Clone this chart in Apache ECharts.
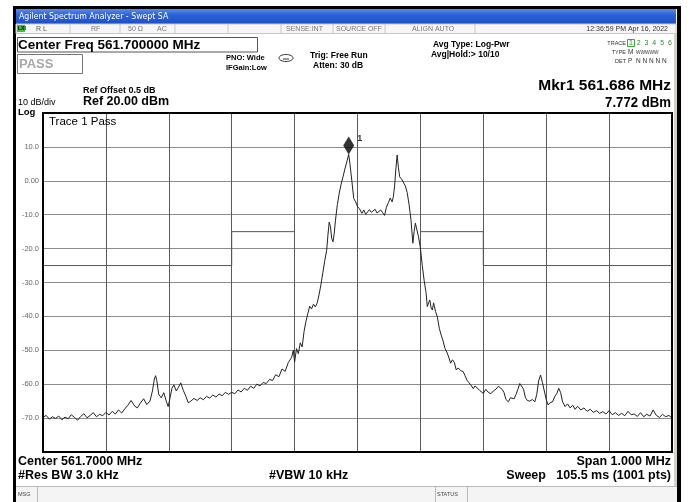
<!DOCTYPE html>
<html><head><meta charset="utf-8">
<script src="https://cdn.jsdelivr.net/npm/echarts@6/dist/echarts.min.js"></script>
<style>html,body{margin:0;padding:0;background:#fff}#c{width:697px;height:502px}</style>
</head><body><div id="c"></div>
<script>
// Frequency offsets (kHz from 561.2 MHz start; span 1 MHz)
const traceOffsetKHz = [0,5,10,15,20,25,30,35,40,45,50,55,60,65,70,75,80,85,90,95,100,105,110,115,120,125,130,135,140,143,146,150,155,160,165,170,174,177,179,181,184,188,192,196,199,202,205,208,212,215,219,223,227,231,235,240,245,250,255,260,265,270,275,280,285,290,295,300,305,310,315,320,325,330,335,340,345,350,355,360,365,370,375,380,385,390,395,398,400,403,406,409,412,415,418,421,424,427,430,433,436,439,442,445,448,451,453,455,457,459,461,463,465,468,471,474,477,480,483,486,488,491,494,497,500,503,507,510,513,516,519,522,525,528,531,534,537,540,543,546,549,552,555,557,559,561,563,565,567,570,573,576,579,582,585,588,590,592,594,597,600,603,606,609,611,613,615,617,619,621,624,627,630,633,636,639,642,645,648,651,654,657,660,664,668,671,674,677,680,684,687,690,694,697,700,704,708,712,716,720,724,727,730,733,736,740,743,746,749,752,755,758,761,764,767,770,774,778,782,785,788,791,794,797,800,803,806,810,814,817,820,823,826,830,834,838,842,846,850,855,860,865,870,875,880,885,890,895,900,905,910,915,920,925,930,935,940,945,950,955,960,965,970,975,980,985,990,995,1000];
const traceLevelDbm = [-69.8,-69.2,-70.3,-69.6,-70.1,-69.4,-70.5,-69.7,-70.2,-69.0,-69.8,-70.6,-69.5,-68.7,-69.9,-69.2,-68.4,-69.6,-68.9,-69.3,-68.3,-69.1,-68.0,-68.8,-67.6,-68.5,-67.3,-66.2,-64.8,-64.5,-66.5,-67.0,-65.5,-64.3,-66.0,-65.0,-62.0,-58.5,-57.5,-59.0,-63.0,-64.0,-62.5,-65.0,-66.6,-64.0,-61.2,-60.2,-62.0,-61.0,-59.6,-61.8,-63.5,-65.5,-65.0,-64.2,-64.8,-64.0,-64.6,-63.6,-64.1,-63.2,-63.8,-62.9,-63.4,-62.4,-63.0,-62.4,-62.8,-61.7,-62.3,-61.2,-61.8,-60.6,-61.2,-60.0,-60.5,-59.5,-59.8,-58.6,-58.9,-57.2,-57.8,-55.5,-56.2,-53.6,-52.2,-50.0,-53.5,-49.5,-51.0,-47.8,-49.0,-44.5,-41.5,-39.2,-37.0,-37.8,-36.4,-37.2,-36.0,-33.5,-30.5,-27.0,-23.5,-20.5,-16.0,-12.2,-13.5,-17.0,-18.0,-15.5,-11.6,-7.0,-3.6,-1.0,1.2,3.5,5.6,7.772,5.0,0.0,-5.2,-6.2,-7.6,-8.2,-9.6,-8.6,-9.9,-10.1,-8.5,-9.3,-9.8,-8.4,-9.5,-9.8,-8.6,-9.4,-10.2,-7.8,-6.5,-5.1,-6.2,-4.7,-1.5,3.5,7.6,4.0,1.2,0.5,0.0,-1.5,-3.5,-7.0,-11.5,-18.4,-15.0,-12.5,-13.0,-16.5,-19.8,-25.0,-29.5,-33.0,-37.1,-36.0,-35.2,-37.5,-38.1,-36.0,-38.5,-40.2,-43.5,-45.5,-47.2,-49.4,-50.5,-52.0,-53.8,-52.8,-53.6,-55.8,-55.2,-56.0,-56.3,-57.5,-58.8,-59.5,-60.2,-61.3,-60.5,-60.2,-61.8,-62.0,-62.7,-61.5,-62.4,-62.8,-62.0,-61.5,-60.6,-60.3,-61.5,-62.5,-64.5,-65.2,-64.0,-63.5,-64.3,-63.0,-61.5,-59.8,-59.3,-61.5,-64.0,-64.8,-65.0,-64.5,-65.2,-63.0,-59.0,-57.3,-59.5,-62.0,-64.5,-66.1,-65.5,-65.2,-63.5,-62.7,-61.2,-62.5,-65.2,-66.6,-65.8,-67.0,-66.2,-67.4,-66.5,-67.6,-67.0,-68.0,-67.4,-68.3,-67.8,-68.6,-68.1,-68.8,-67.8,-69.0,-68.4,-69.2,-68.6,-69.3,-68.0,-69.0,-68.8,-69.5,-68.4,-69.6,-68.9,-69.4,-67.6,-69.2,-69.8,-68.9,-69.6,-69.2,-70.0];
// Limit (mask) lines
const limitLeftKHz = [0,300,300,400];
const limitLeftDbm = [-25,-25,-15,-15];
const limitRightKHz = [600,700,700,1000];
const limitRightDbm = [-15,-15,-25,-25];
// Marker 1
const markerKHz = [486];
const markerDbm = [7.772];
// Axes
const yMin = -80, yMax = 20, yStep = 10;
const xMin = 0, xMax = 1000, xStep = 100;

const FF = '"Liberation Sans", Arial, sans-serif';
function T(x, y, text, size, opts) {
  opts = opts || {};
  const align = opts.align || 'left';
  return {
    type: 'text', x: x, y: y, z: 100, scaleX: opts.sx || 1,
    style: {
      text: text, fill: opts.color || '#000',
      font: (opts.bold ? 'bold ' : '') + size + 'px ' + (opts.family || FF),
      align: align, verticalAlign: 'middle',
      textAlign: align, textVerticalAlign: 'middle'
    }
  };
}
function R(x, y, w, h, fill, stroke, lw, z) {
  return { type: 'rect', shape: { x: x, y: y, width: w, height: h }, z: (z === undefined ? 1 : z),
    style: { fill: fill || 'none', stroke: stroke || null, lineWidth: lw || 1 } };
}
function L(x1, y1, x2, y2, color, lw, z) {
  return { type: 'line', shape: { x1: x1, y1: y1, x2: x2, y2: y2 }, z: z || 2,
    style: { stroke: color, lineWidth: lw || 1 } };
}

const graphics = [
  R(13, 6, 668, 496, '#000', null, 1, -3),
  R(16, 9, 661, 493, '#fff', null, 1, -2),
  { type: 'rect', shape: { x: 16, y: 9, width: 660, height: 15 }, z: 1,
    style: { fill: new echarts.graphic.LinearGradient(0, 0, 0, 1, [
      { offset: 0, color: '#5a8af0' }, { offset: 0.4, color: '#2c62d8' }, { offset: 1, color: '#1d4fc4' }]) } },
  T(19, 16.5, 'Agilent Spectrum Analyzer - Swept SA', 8.5, { color: '#fff', family: '"DejaVu Sans", sans-serif', sx: 0.92 }),
  R(16, 24, 660, 9.5, '#f6f6f6', '#c8c8c8', 1, 1),
  R(17, 25, 8, 7, '#3fbf3f', null, 1, 2),
  T(18, 28.7, 'LXI', 5, { bold: true, color: '#000' }),
  T(36, 29, 'R L', 7, { color: '#555' }),
  T(91, 29, 'RF', 7, { color: '#777' }),
  T(128, 29, '50 Ω', 7, { color: '#777' }),
  T(157, 29, 'AC', 7, { color: '#777' }),
  T(286, 29, 'SENSE:INT', 7, { color: '#777' }),
  T(336, 29, 'SOURCE OFF', 7, { color: '#777' }),
  T(412, 29, 'ALIGN AUTO', 7, { color: '#777' }),
  T(668, 29, '12:36:59 PM Apr 16, 2022', 7, { color: '#333', align: 'right' }),
  L(70, 24, 70, 33, '#c8c8c8'), L(120, 24, 120, 33, '#c8c8c8'), L(175, 24, 175, 33, '#c8c8c8'),
  L(228, 24, 228, 33, '#c8c8c8'), L(281, 24, 281, 33, '#c8c8c8'), L(333, 24, 333, 33, '#c8c8c8'),
  L(385, 24, 385, 33, '#c8c8c8'), L(475, 24, 475, 33, '#c8c8c8'),
  R(674, 33, 3, 453, '#d4d0c8', null, 1, 1),
  // Header
  R(17.5, 37.5, 240, 14.5, 'none', '#555', 1, 2),
  T(18, 45, 'Center Freq 561.700000 MHz', 13.5, { bold: true }),
  R(17.5, 54.5, 65, 19, 'none', '#777', 1, 2),
  T(19, 64, 'PASS', 13, { bold: true, color: '#a8a8a8' }),
  T(226, 58, 'PNO: Wide', 7.5, { bold: true }),
  T(226, 68, 'IFGain:Low', 7.5, { bold: true }),
  { type: 'ellipse', shape: { cx: 286, cy: 58, rx: 7, ry: 3.5 }, z: 3, style: { fill: 'none', stroke: '#333', lineWidth: 1 } },
  L(283, 59, 289, 59, '#333', 1, 3),
  T(310, 56, 'Trig: Free Run', 8.5, { bold: true }),
  T(313, 66, 'Atten: 30 dB', 8.5, { bold: true }),
  T(433, 45, 'Avg Type: Log-Pwr', 8.5, { bold: true }),
  T(431, 55, 'Avg|Hold:> 10/10', 8.5, { bold: true }),
  T(626, 43, 'TRACE', 5.5, { align: 'right', color: '#333' }),
  T(626, 52, 'TYPE', 5.5, { align: 'right', color: '#333' }),
  T(626, 61, 'DET', 5.5, { align: 'right', color: '#333' }),
  R(627.5, 39.5, 7, 7, 'none', '#3a3', 1, 2),
  T(629, 43, '1  2  3  4  5  6', 7, { color: '#2a8a2a' }),
  T(628, 52, 'M', 6.5, { color: '#333' }),
  T(636, 52, 'WWWWW', 6, { color: '#333', sx: 0.8 }),
  T(628, 61, 'P  N N N N N', 6.5, { color: '#333' }),
  T(83, 91, 'Ref Offset 0.5 dB', 9, { bold: true }),
  T(83, 102, 'Ref 20.00 dBm', 12.5, { bold: true }),
  T(18, 103, '10 dB/div', 9, {}),
  T(18, 112, 'Log', 9.5, { bold: true }),
  T(671, 86, 'Mkr1 561.686 MHz', 15.5, { bold: true, align: 'right' }),
  T(671, 103, '7.772 dBm', 15.5, { bold: true, align: 'right', sx: 0.85 }),
  // Plot extras
  T(49, 122, 'Trace 1 Pass', 11.5, {}),
  // Footer
  T(18, 462, 'Center 561.7000 MHz', 12.5, { bold: true }),
  T(18, 476, '#Res BW 3.0 kHz', 12.5, { bold: true }),
  T(269, 476, '#VBW 10 kHz', 12.5, { bold: true }),
  T(671, 462, 'Span 1.000 MHz', 12.5, { bold: true, align: 'right' }),
  T(671, 476, 'Sweep   105.5 ms (1001 pts)', 12.5, { bold: true, align: 'right' }),
  R(16, 486, 661, 16, '#f4f4f4', null, 1, 1),
  L(16, 486.5, 677, 486.5, '#bbb', 1, 2),
  L(37.5, 487, 37.5, 502, '#bbb', 1, 2),
  L(435.5, 487, 435.5, 502, '#bbb', 1, 2),
  L(467.5, 487, 467.5, 502, '#bbb', 1, 2),
  T(18, 494, 'MSG', 5.5, { color: '#444' }),
  T(437, 494, 'STATUS', 5.5, { color: '#444' }),
  // Plot frame
  R(43, 113, 629, 339, 'none', '#000', 2, 50)
];

const chart = echarts.init(document.getElementById('c'), null, { renderer: 'canvas' });
chart.setOption({
  animation: false,
  backgroundColor: 'transparent',
  grid: { left: 43, top: 113, width: 629, height: 339, containLabel: false, z: 5 },
  xAxis: {
    type: 'value', min: xMin, max: xMax, interval: xStep, z: 5,
    axisLine: { show: false }, axisTick: { show: false }, axisLabel: { show: false },
    splitLine: { show: true, lineStyle: { color: '#5a5a5a', width: 1 } }
  },
  yAxis: {
    type: 'value', min: yMin, max: yMax, interval: yStep, z: 5,
    axisLine: { show: false }, axisTick: { show: false },
    axisLabel: {
      margin: 4, color: '#666', fontSize: 7.5, fontFamily: FF,
      formatter: function (v) { if (v === yMax || v === yMin) return ''; return v === 0 ? '0.00' : v.toFixed(1); }
    },
    splitLine: { show: true, lineStyle: { color: '#8c8c8c', width: 1 } }
  },
  graphic: { elements: graphics },
  series: [
    { type: 'line', data: limitLeftKHz.map((f, i) => [f, limitLeftDbm[i]]), showSymbol: false, silent: true,
      lineStyle: { color: '#555', width: 1 }, z: 6 },
    { type: 'line', data: limitRightKHz.map((f, i) => [f, limitRightDbm[i]]), showSymbol: false, silent: true,
      lineStyle: { color: '#555', width: 1 }, z: 6 },
    { type: 'line', data: traceOffsetKHz.map((f, i) => [f, traceLevelDbm[i]]), showSymbol: false, silent: true,
      lineStyle: { color: '#222', width: 1 }, z: 7 },
    { type: 'scatter', data: markerKHz.map((f, i) => [f, markerDbm[i]]), symbol: 'diamond', symbolSize: [11, 18],
      symbolOffset: [0, -9], itemStyle: { color: '#000' }, z: 8,
      label: { show: true, formatter: '1', position: 'right', offset: [-2, -7], fontSize: 9, fontWeight: 'bold', color: '#000', fontFamily: FF } }
  ]
});
</script></body></html>
